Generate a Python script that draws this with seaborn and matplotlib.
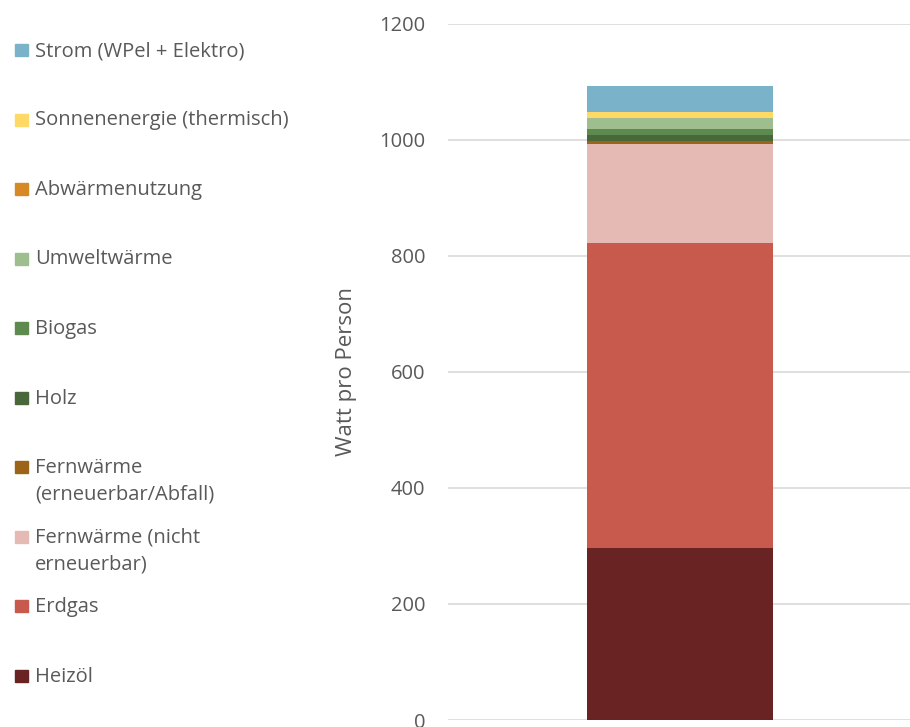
import numpy as np
import pandas as pd
import seaborn as sns
import matplotlib.pyplot as plt
from matplotlib.patches import Rectangle

# series, bottom to top (Watt pro Person)
labels = ['Heizöl', 'Erdgas', 'Fernwärme (nicht\nerneuerbar)',
          'Fernwärme\n(erneuerbar/Abfall)', 'Holz', 'Biogas', 'Umweltwärme',
          'Abwärmenutzung', 'Sonnenenergie (thermisch)', 'Strom (WPel + Elektro)']
values = [297, 525, 171, 4, 11, 10, 19, 0, 10, 45]
colors = ['#682322', '#C8594D', '#E6BAB4', '#9C6419', '#48673A',
          '#5F8A4F', '#9EBE8E', '#D58A26', '#FFD966', '#7AB3C9']
category = ['']

sns.set_style('white')
plt.rcParams['font.family'] = ['Open Sans', 'DejaVu Sans']
grey = '#595959'

fig = plt.figure(figsize=(9.1, 7.27), dpi=100)
ax = fig.add_axes([0.492, 0.0096, 0.51, 0.958])

cum = np.cumsum(values)
# draw cumulative totals from top down so lower segments overlay higher ones
for i in range(len(values) - 1, -1, -1):
    df = pd.DataFrame({'cat': category, 'val': [cum[i]]})
    sns.barplot(data=df, x='cat', y='val', color=colors[i], width=0.4,
                saturation=1, ax=ax, zorder=3, linewidth=0)

ax.set_ylim(0, 1200)
ax.set_xlim(-0.5, 0.5)
ax.set_yticks(range(0, 1201, 200))
ax.yaxis.grid(True, color='#D9D9D9', linewidth=1.2, zorder=0)
ax.set_axisbelow(True)
for s in ax.spines.values():
    s.set_visible(False)
ax.tick_params(axis='y', length=0, pad=16, labelsize=14.5, labelcolor=grey)
ax.tick_params(axis='x', length=0)
ax.set_xticklabels([])
ax.set_xlabel('')
ax.set_ylabel('Watt pro Person', fontsize=16, color=grey, labelpad=16)

# legend on the left, top entry first, aligned to the first text line
W, H = 910, 727
for k, i in enumerate(range(len(labels) - 1, -1, -1)):
    yc = 50 + k * 69.5
    fig.patches.append(Rectangle((15 / W, 1 - (yc + 6) / H), 13 / W, 12 / H,
                                 transform=fig.transFigure, color=colors[i]))
    fig.text(35 / W, 1 - (yc - 9) / H, labels[i], fontsize=14.5, color=grey,
             va='top', ha='left', linespacing=1.45)

plt.savefig('out.png', dpi=100)
